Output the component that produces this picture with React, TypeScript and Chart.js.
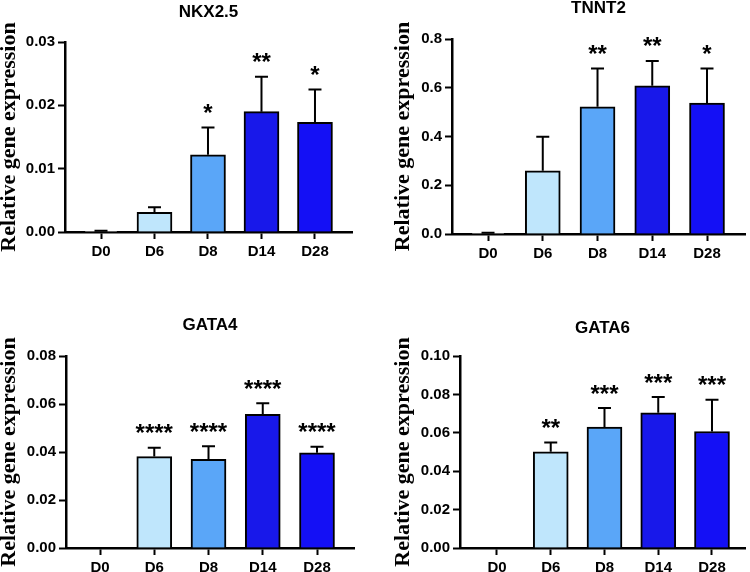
import React, { useEffect, useRef } from "react";
import { Chart, registerables } from "chart.js";

Chart.register(...registerables);

const categories = ["D0", "D6", "D8", "D14", "D28"];
const barColors = ["#ffffff", "#bfe6fc", "#5aa6f8", "#1818ea", "#1410f5"];

const nkxMean = [0.0001, 0.0031, 0.0122, 0.019, 0.0173];
const nkxSd = [0.0001, 0.0008, 0.0043, 0.0055, 0.0052];
const nkxStars = ["", "", "*", "**", "*"];
const nkxTicks = ["0.00", "0.01", "0.02", "0.03"];

const tnntMean = [0.001, 0.259, 0.522, 0.608, 0.537];
const tnntSd = [0.004, 0.14, 0.157, 0.102, 0.142];
const tnntStars = ["", "", "**", "**", "*"];
const tnntTicks = ["0.0", "0.2", "0.4", "0.6", "0.8"];

const gata4Mean = [0, 0.0381, 0.0369, 0.0557, 0.0397];
const gata4Sd = [0, 0.0037, 0.0055, 0.0046, 0.0025];
const gata4Stars = ["", "****", "****", "****", "****"];
const gata4Ticks = ["0.00", "0.02", "0.04", "0.06", "0.08"];

const gata6Mean = [0, 0.0501, 0.063, 0.0704, 0.0607];
const gata6Sd = [0, 0.0049, 0.0099, 0.0082, 0.0165];
const gata6Stars = ["", "**", "***", "***", "***"];
const gata6Ticks = ["0.00", "0.02", "0.04", "0.06", "0.08", "0.10"];

const yTitle = "Relative gene expression";
const SANS = '"Liberation Sans", Arial, sans-serif';
const SERIF = '"Liberation Serif", "Times New Roman", serif';

type PanelCfg = {
  title: string;
  mean: number[];
  sd: number[];
  stars: string[];
  ticks: string[];
  left: number;
  top: number;
  area: { l: number; t: number; r: number; b: number };
  titleY: number;
  yLabelX: number;
  xMin: number;
  xMax: number;
};

const W = 375;
const H = 286;

const panels: PanelCfg[] = [
  {
    title: "NKX2.5", mean: nkxMean, sd: nkxSd, stars: nkxStars, ticks: nkxTicks,
    left: 0, top: 0, area: { l: 65, t: 42, r: 352, b: 232 }, titleY: 12, yLabelX: 9,
    xMin: -0.673, xMax: 4.692,
  },
  {
    title: "TNNT2", mean: tnntMean, sd: tnntSd, stars: tnntStars, ticks: tnntTicks,
    left: 375, top: 0, area: { l: 77, t: 39, r: 370, b: 234 }, titleY: 8, yLabelX: 28,
    xMin: -0.658, xMax: 4.694,
  },
  {
    title: "GATA4", mean: gata4Mean, sd: gata4Sd, stars: gata4Stars, ticks: gata4Ticks,
    left: 0, top: 286, area: { l: 66, t: 70, r: 354, b: 262 }, titleY: 39, yLabelX: 9,
    xMin: -0.627, xMax: 4.682,
  },
  {
    title: "GATA6", mean: gata6Mean, sd: gata6Sd, stars: gata6Stars, ticks: gata6Ticks,
    left: 375, top: 286, area: { l: 85, t: 70, r: 370, b: 262 }, titleY: 42, yLabelX: 28,
    xMin: -0.688, xMax: 4.614,
  },
];

function Panel({ cfg }: { cfg: PanelCfg }) {
  const ref = useRef<HTMLCanvasElement>(null);
  useEffect(() => {
    const { mean, sd, stars, ticks, area } = cfg;
    const titleSize = 17;
    const titleLH = titleSize * 1.2;
    const padTop = cfg.titleY - titleLH / 2;
    const padBottom = area.t - padTop - titleLH;
    const yLabelSize = 22;

    const errPlugin = {
      id: "errbars",
      afterDatasetsDraw(chart: any) {
        const meta = chart.getDatasetMeta(0);
        const ys = chart.scales.y;
        const ctx = chart.ctx;
        ctx.save();
        ctx.strokeStyle = "#000";
        ctx.lineWidth = 2;
        meta.data.forEach((bar: any, i: number) => {
          const topPx = ys.getPixelForValue(mean[i] + sd[i]);
          const x = bar.x;
          ctx.beginPath();
          ctx.moveTo(x, bar.y);
          ctx.lineTo(x, topPx);
          ctx.moveTo(x - 6.5, topPx);
          ctx.lineTo(x + 6.5, topPx);
          ctx.stroke();
          if (stars[i]) {
            ctx.font = `bold 24px ${SANS}`;
            ctx.textAlign = "center";
            ctx.textBaseline = "alphabetic";
            ctx.fillStyle = "#000";
            ctx.fillText(stars[i], x, topPx - 6.5);
          }
        });
        ctx.restore();
      },
    };

    const chart = new Chart(ref.current as HTMLCanvasElement, {
      type: "bar",
      data: {
        datasets: [
          {
            data: mean.map((v, i) => ({ x: i, y: v })),
            backgroundColor: barColors,
            borderColor: "#000",
            borderWidth: 2,
            barThickness: 35,
          } as any,
        ],
      },
      options: {
        animation: false,
        responsive: false,
        maintainAspectRatio: false,
        layout: { padding: { left: 0, right: W - area.r, top: 0, bottom: 0 } },
        plugins: {
          legend: { display: false },
          tooltip: { enabled: false },
          title: {
            display: true,
            text: cfg.title,
            color: "#000",
            fullSize: false,
            font: { family: SANS, size: titleSize, weight: "bold" },
            padding: { top: padTop, bottom: padBottom },
          },
        },
        scales: {
          x: {
            type: "linear",
            offset: false,
            min: cfg.xMin,
            max: cfg.xMax,
            afterBuildTicks: (s: any) => {
              s.ticks = categories.map((_, i) => ({ value: i }));
            },
            afterFit: (s: any) => {
              s.height = H - area.b;
            },
            ticks: {
              callback: (v: any) => categories[Math.round(Number(v))] ?? "",
              color: "#000",
              font: { family: SANS, size: 15, weight: "bold" },
              padding: 4,
              maxRotation: 0,
              autoSkip: false,
            },
            grid: {
              display: true,
              offset: false,
              drawOnChartArea: false,
              drawTicks: true,
              tickLength: 7,
              tickWidth: 2,
              tickColor: "#000",
            },
            border: { display: true, color: "#000", width: 2.5 },
          },
          y: {
            type: "linear",
            min: 0,
            max: parseFloat(ticks[ticks.length - 1]),
            afterBuildTicks: (s: any) => {
              s.ticks = ticks.map((t) => ({ value: parseFloat(t) }));
            },
            afterFit: (s: any) => {
              s.width = area.l;
            },
            ticks: {
              callback: (_v: any, i: number) => ticks[i],
              color: "#000",
              font: { family: SANS, size: 15, weight: "bold" },
              padding: 3,
            },
            grid: {
              display: true,
              drawOnChartArea: false,
              drawTicks: true,
              tickLength: 7,
              tickWidth: 2,
              tickColor: "#000",
            },
            border: { display: true, color: "#000", width: 2.5 },
            title: {
              display: true,
              text: yTitle,
              color: "#000",
              font: { family: SERIF, size: yLabelSize, weight: "bold", lineHeight: 1 },
              padding: { top: cfg.yLabelX - yLabelSize / 2, bottom: 0 },
            },
          },
        },
      } as any,
      plugins: [errPlugin as any],
    });
    return () => chart.destroy();
  }, [cfg]);

  return (
    <canvas
      ref={ref}
      width={W}
      height={H}
      style={{ position: "absolute", left: cfg.left, top: cfg.top, width: W, height: H, display: "block" }}
    />
  );
}

export default function App() {
  return (
    <div style={{ position: "absolute", left: 0, top: 0, width: 750, height: 572, background: "#fff", overflow: "hidden" }}>
      {panels.map((p) => (
        <Panel key={p.title} cfg={p} />
      ))}
    </div>
  );
}
